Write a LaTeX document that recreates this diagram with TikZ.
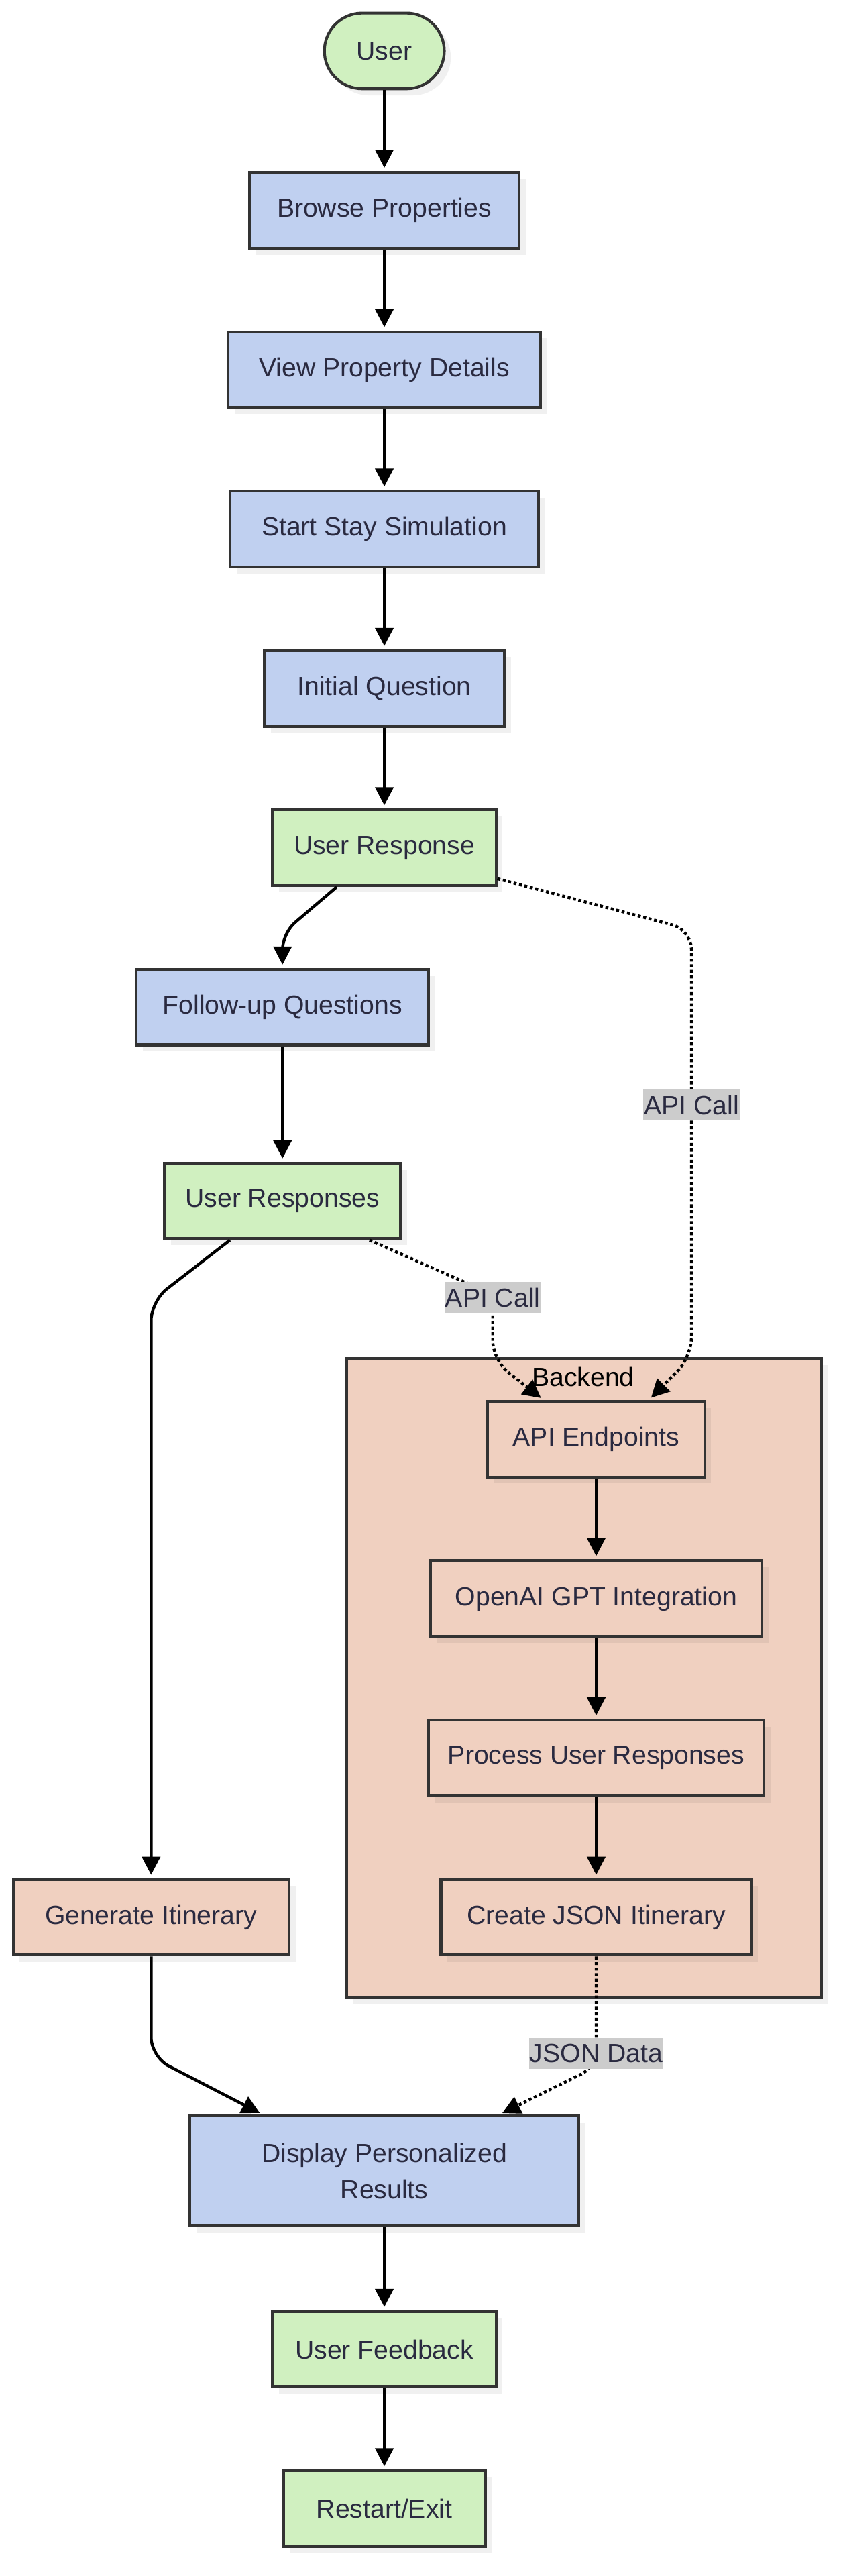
\documentclass[tikz,border=0pt]{standalone}
\usepackage{fontspec}
\setmainfont{Liberation Sans}
\usetikzlibrary{arrows.meta,positioning,shadows}
\definecolor{usergreen}{HTML}{D0F0C0}
\definecolor{stepblue}{HTML}{C0D0F0}
\definecolor{backpeach}{HTML}{F0D0C0}
\definecolor{inkline}{HTML}{333333}
\definecolor{inktext}{HTML}{2A2A40}

\begin{document}
\begin{tikzpicture}[x=1pt, y=-1pt,
  box/.style={draw=inkline, line width=1.7pt, minimum height=46pt, inner xsep=8pt,
    text=inktext, font=\fontsize{16}{22}\selectfont, align=center,
    drop shadow={shadow xshift=4pt, shadow yshift=-4pt, fill=black, opacity=0.06}},
  greenbox/.style={box, fill=usergreen},
  bluebox/.style={box, fill=stepblue},
  peachbox/.style={box, fill=backpeach},
  groupbox/.style={box, fill=backpeach, inner sep=0pt},
  flow/.style={-{Triangle[length=11pt,width=11pt]}, line width=1.8pt, shorten >=2pt},
  dflow/.style={flow, dash pattern=on 1.8pt off 1.6pt},
  elabel/.style={sharp corners, fill=black!20, text=inktext, font=\fontsize{16}{19}\selectfont,
    inner xsep=0.5pt, inner ysep=1pt, minimum height=19pt}]
  \useasboundingbox (0,0) rectangle (512,1568);

  % main column
  \node[greenbox, rounded corners=23pt, minimum width=73pt] (user) at (234,31) {User};
  \node[bluebox, minimum width=164pt] (browse) at (234,128) {Browse Properties};
  \node[bluebox, minimum width=190pt] (details) at (234,225) {View Property Details};
  \node[bluebox, minimum width=188pt] (simstart) at (234,322) {Start Stay Simulation};
  \node[bluebox, minimum width=146pt] (firstq) at (234,419) {Initial Question};
  \node[greenbox, minimum width=136pt] (answer) at (234,516) {User Response};
  \node[bluebox, minimum width=178pt] (followq) at (172,613) {Follow-up Questions};
  \node[greenbox, minimum width=144pt] (answers) at (172,731) {User Responses};
  \node[peachbox, minimum width=168pt] (geniti) at (92,1167) {Generate Itinerary};

  % backend group
  \node[groupbox, minimum width=289pt, minimum height=389pt] (backend) at (355.5,1021.5) {};
  \node[font=\fontsize{16}{19}\selectfont, text=black] (backendlbl) at (355,838) {Backend};
  \node[peachbox, minimum width=132pt] (endpoints) at (363,876) {API Endpoints};
  \node[peachbox, minimum width=202pt] (gpt) at (363,973) {OpenAI GPT Integration};
  \node[peachbox, minimum width=204pt] (process) at (363,1070) {Process User Responses};
  \node[peachbox, minimum width=189pt] (jsoniti) at (363,1167) {Create JSON Itinerary};

  % results
  \node[bluebox, minimum width=237pt, minimum height=67pt] (results) at (234,1321.5)
    {Display Personalized\\Results};
  \node[greenbox, minimum width=136pt] (feedback) at (234,1430) {User Feedback};
  \node[greenbox, minimum width=123pt] (restart) at (234,1527) {Restart/Exit};

  % straight steps
  \draw[flow] (user) -- (browse);
  \draw[flow] (browse) -- (details);
  \draw[flow] (details) -- (simstart);
  \draw[flow] (simstart) -- (firstq);
  \draw[flow] (firstq) -- (answer);
  \draw[flow] (followq) -- (answers);
  \draw[flow] (endpoints) -- (gpt);
  \draw[flow] (gpt) -- (process);
  \draw[flow] (process) -- (jsoniti);
  \draw[flow] (results) -- (feedback);
  \draw[flow] (feedback) -- (restart);

  % bent steps
  \draw[flow, rounded corners=10pt] ([xshift=-29pt]answer.south) -- (172,568) -- (followq);
  \draw[flow, rounded corners=12pt] ([xshift=-32pt]answers.south) -- (92,792) -- (geniti);
  \draw[flow, rounded corners=12pt] (geniti) -- (92,1252) -- ([xshift=-74pt]results.north);

  % calls to the backend
  \draw[dflow, rounded corners=12pt] ([yshift=5pt]answer.south east) -- (421,566)
    -- node[elabel, pos=0.41] {API Call} (421,826) -- ([xshift=32pt]endpoints.north);
  \draw[dflow, rounded corners=12pt] ([xshift=53pt]answers.south) -- (300,788)
    -- (300,828) -- ([xshift=-32pt]endpoints.north);
  \node[elabel] (calllbl) at (300,790) {API Call};
  \draw[dflow, rounded corners=10pt] (jsoniti) -- node[elabel, pos=0.88] {JSON Data} (363,1258)
    -- ([xshift=70pt]results.north);
\end{tikzpicture}
\end{document}
